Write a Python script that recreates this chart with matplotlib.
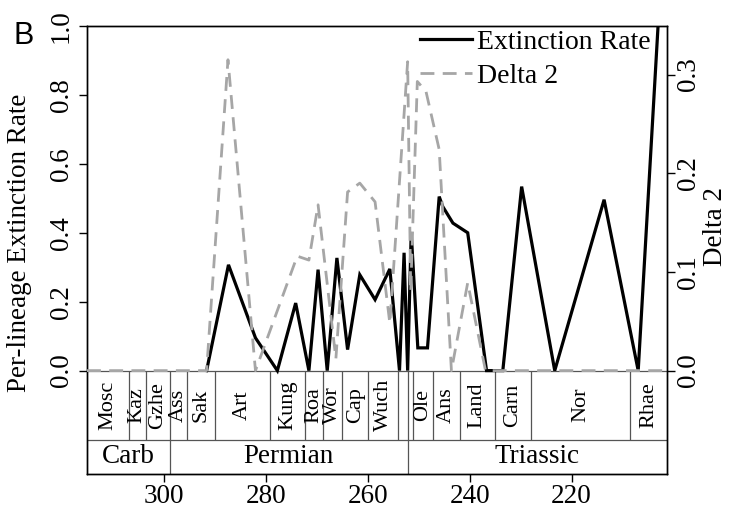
import numpy as np
import matplotlib
matplotlib.use("Agg")
import matplotlib.pyplot as plt
from matplotlib.lines import Line2D

# ---------------- data ----------------
ext_age = [291.7, 287.4, 282.1, 277.8, 274.2, 271.6, 269.8, 268.0, 266.1, 264.0,
           261.6, 258.6, 255.7, 253.8, 252.9, 252.2, 251.5, 250.2, 248.3, 246.0,
           245.3, 243.3, 240.4, 236.7, 233.5, 229.8, 223.3, 213.6, 206.9, 203.0]
ext_rate = [0.0, 0.307, 0.095, 0.0, 0.196, 0.0, 0.293, 0.0, 0.327, 0.061,
            0.278, 0.206, 0.295, 0.0, 0.342, 0.0, 0.40, 0.066, 0.066, 0.505,
            0.476, 0.428, 0.40, 0.0, 0.0, 0.534, 0.0, 0.496, 0.0, 1.0]

d2_age = [315.2, 305.1, 299.9, 294.7, 291.7, 287.5, 282.1, 273.9, 271.6, 269.8,
          266.3, 264.0, 261.6, 258.6, 255.7, 252.2, 251.6, 250.3, 248.6, 246.0,
          243.6, 240.4, 236.9, 201.3]
d2_val = [0.0, 0.0, 0.0, 0.0, 0.0, 0.315, 0.0, 0.116, 0.112, 0.168,
          0.012, 0.181, 0.190, 0.171, 0.048, 0.313, 0.08, 0.293, 0.283, 0.224,
          0.0, 0.089, 0.0, 0.0]

stage_bounds = [315.2, 307.0, 303.7, 298.9, 295.5, 290.1, 279.3, 272.3, 268.8, 265.1,
                259.9, 254.1, 252.2, 251.2, 247.2, 242.0, 235.0, 228.0, 208.5, 201.3]
stage_names = ["Mosc", "Kaz", "Gzhe", "Ass", "Sak", "Art", "Kung", "Roa", "Wor", "Cap",
               "Wuch", "", "", "Ole", "Ans", "Land", "Carn", "Nor", "Rhae"]
period_bounds = [315.2, 298.9, 252.2, 201.3]
period_names = ["Carb", "Permian", "Triassic"]

xticks = [300, 280, 260, 240, 220]
yticks_left = [0.0, 0.2, 0.4, 0.6, 0.8, 1.0]
yticks_right = [0.0, 0.1, 0.2, 0.3]

# ---------------- figure ----------------
SERIF = ["Liberation Serif", "DejaVu Serif"]
plt.rcParams['font.family'] = SERIF

W, H = 729, 511
fig = plt.figure(figsize=(W / 100, H / 100), dpi=100)
L, R, T, B = 87, 666.7, 26, 474
ax = fig.add_axes([L / W, 1 - B / H, (R - L) / W, (B - T) / H])
ax.set_xlim(315.2, 201.3)
ymin = -0.3
ax.set_ylim(ymin, 1.0)
RMAX = 0.3492
ax2 = ax.twinx()
ax2.set_ylim(ymin * RMAX, RMAX)

box_col = "#555555"
# stage / period boxes
ax.axhline(0.0, color=box_col, lw=0.9, zorder=1)
ax.axhline(-0.2, color=box_col, lw=0.9, zorder=1)
ax.vlines(stage_bounds[1:-1], -0.2, 0.0, color=box_col, lw=0.9, zorder=1)
ax.vlines(period_bounds[1:-1], ymin, -0.2, color=box_col, lw=0.9, zorder=1)
for i, name in enumerate(stage_names):
    if name:
        xm = (stage_bounds[i] + stage_bounds[i + 1]) / 2
        ax.text(xm, -0.1, name, rotation=90, ha='center', va='center',
                fontsize=16, family=SERIF)
for i, name in enumerate(period_names):
    xm = (period_bounds[i] + period_bounds[i + 1]) / 2
    ax.text(xm, -0.25, name, ha='center', va='center', fontsize=19.5, family=SERIF)

# lines
ax.plot(ext_age, ext_rate, color='black', lw=2.3, zorder=3, solid_joinstyle='miter')
ax2.plot(d2_age, d2_val, color='#a6a6a6', lw=2.0, dashes=(5, 3), zorder=4)

# axes styling
for a in (ax, ax2):
    for s in a.spines.values():
        s.set_linewidth(1.0)
        s.set_color('black')

ax.set_xticks(xticks)
ax.set_xticklabels([str(v) for v in xticks])
ax.tick_params(axis='x', direction='out', length=6, width=1, pad=1, labelsize=19.5)
ax.set_yticks(yticks_left)
ax.set_yticklabels([f"{v:.1f}" for v in yticks_left])
ax.tick_params(axis='y', direction='out', length=5.5, width=1, pad=4, labelsize=19.5,
               labelrotation=90)
for lbl in ax.get_yticklabels():
    lbl.set_va('center')
ax2.set_yticks(yticks_right)
ax2.set_yticklabels([f"{v:.1f}" for v in yticks_right])
ax2.tick_params(axis='y', direction='out', length=5.5, width=1, pad=1, labelsize=19.5,
                labelrotation=90)
for lbl in ax2.get_yticklabels():
    lbl.set_va('center')

fig.text(20 / W, 1 - 243 / H, "Per-lineage Extinction Rate", rotation=90,
         ha='center', va='center', fontsize=19.5, family=SERIF)
fig.text(716 / W, 1 - 226 / H, "Delta 2", rotation=90,
         ha='center', va='center', fontsize=19.5, family=SERIF)
fig.text(13 / W, 1 - 44 / H, "B", ha='left', va='baseline', fontsize=22,
         family=["Liberation Sans", "DejaVu Sans"])

handles = [Line2D([], [], color='black', lw=2.3),
           Line2D([], [], color='#a6a6a6', lw=2.0, dashes=(5, 3))]
leg = ax2.legend(handles, ["Extinction Rate", "Delta 2"], loc='upper right',
                 bbox_to_anchor=(0.973, 0.993), frameon=False, fontsize=20,
                 handlelength=1.85, handletextpad=0.2, borderpad=0, borderaxespad=0,
                 labelspacing=0.32)

fig.savefig("out.png", dpi=100)
